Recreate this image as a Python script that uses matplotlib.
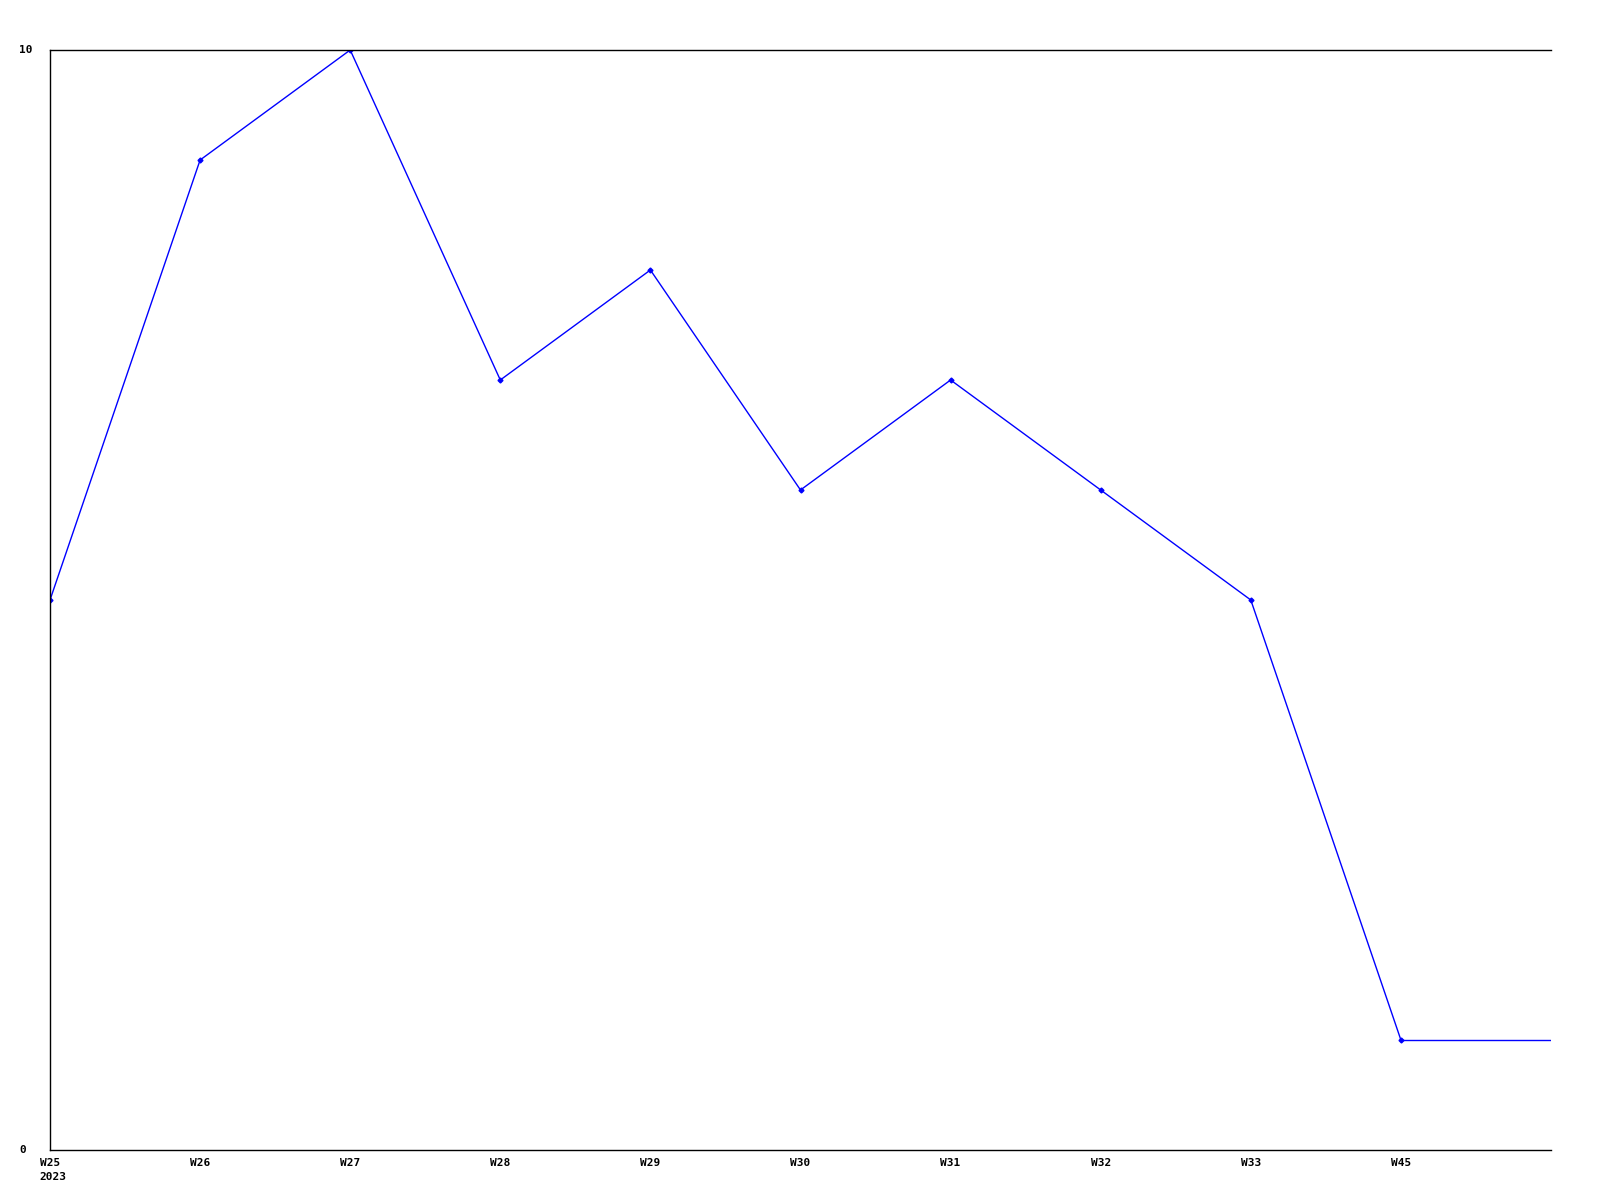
import matplotlib
matplotlib.use("Agg")
import matplotlib.pyplot as plt
import numpy as np

weeks = ["W25", "W26", "W27", "W28", "W29", "W30", "W31", "W32", "W33", "W45"]
values = [5, 9, 10, 7, 8, 6, 7, 6, 5, 1]
year_label = "2023"
y_ticks = [0, 10]

plt.rcParams["font.family"] = "DejaVu Sans Mono"
plt.rcParams["font.weight"] = "bold"

fig = plt.figure(figsize=(16, 12), dpi=100)
ax = fig.add_axes([50 / 1600, 50 / 1200, 1501 / 1600, 1100 / 1200])

x = np.arange(len(weeks))
ax.plot(x, values, color="#0000ff", lw=1, marker="D", ms=2.5)
# last value carried on to the right edge
ax.plot([x[-1], len(weeks)], [values[-1], values[-1]], color="#0000ff", lw=1)

ax.set_xlim(0, len(weeks))
ax.set_ylim(0, 10)
ax.set_xticks(x, weeks)
ax.set_yticks(y_ticks, [""] * len(y_ticks))
ax.tick_params(length=0, labelsize=8, pad=6)
ax.spines["right"].set_visible(False)
for s in ["left", "top", "bottom"]:
    ax.spines[s].set_linewidth(1.0)

# y labels left-aligned near the figure edge
for v in y_ticks:
    ax.annotate(str(v), (0, v), xycoords=("axes fraction", "data"),
                xytext=(-22, 0), textcoords="offset points",
                ha="left", va="center", fontsize=8, fontweight="bold")

# year under the first week label
ax.annotate(year_label, (0, 0), xycoords=("data", "axes fraction"),
            xytext=(-7.5, -15.5), textcoords="offset points",
            ha="left", va="top", fontsize=8, fontweight="bold")

fig.savefig("out.png", dpi=100)
